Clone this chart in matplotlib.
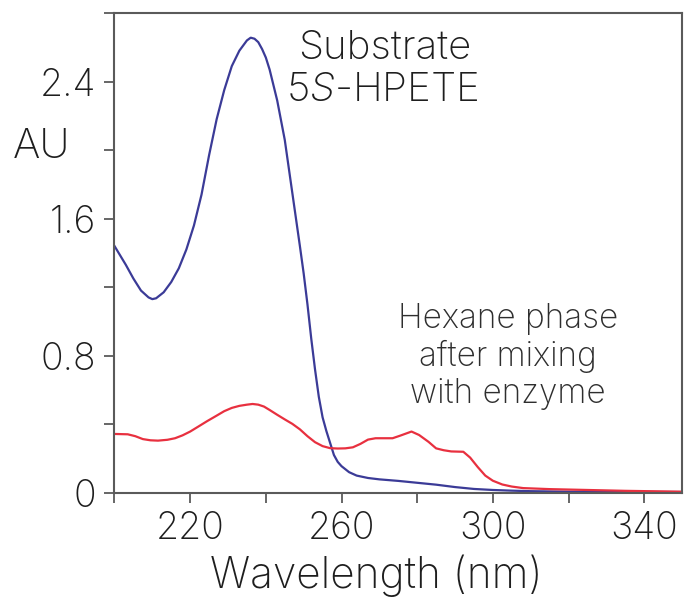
import matplotlib
matplotlib.use('Agg')
import matplotlib.pyplot as plt
from matplotlib.ticker import MultipleLocator

plt.rcParams['font.family'] = ['Inter', 'DejaVu Sans']
plt.rcParams['font.weight'] = 'light'
plt.rcParams['mathtext.fontset'] = 'custom'
plt.rcParams['mathtext.rm'] = 'Inter:light'
plt.rcParams['mathtext.it'] = 'Inter:italic:light'

# substrate 5S-HPETE spectrum
wl_substrate = [200, 203, 205, 207, 209, 210, 211, 213, 215, 217, 219, 221, 223,
                225, 227, 229, 231, 233, 235, 236, 237, 238, 239, 240, 241, 243,
                245, 247, 249, 250, 251, 252, 253, 254, 255, 256, 257, 258, 259,
                260, 262, 264, 267, 270, 275, 280, 285, 290, 295, 300, 305, 310,
                320, 335, 350]
au_substrate = [1.44, 1.33, 1.25, 1.18, 1.14, 1.13, 1.135, 1.17, 1.23, 1.31, 1.42,
                1.56, 1.74, 1.97, 2.18, 2.35, 2.49, 2.58, 2.64, 2.656, 2.65, 2.63,
                2.59, 2.54, 2.47, 2.29, 2.06, 1.75, 1.44, 1.28, 1.10, 0.90, 0.72,
                0.56, 0.44, 0.36, 0.29, 0.22, 0.18, 0.155, 0.12, 0.10, 0.086,
                0.078, 0.069, 0.058, 0.047, 0.033, 0.022, 0.016, 0.012, 0.009,
                0.006, 0.005, 0.004]

# hexane phase after mixing with enzyme
wl_hexane = [200, 203.5, 205.5, 207.5, 209.5, 211.5, 214, 216, 218, 220, 222, 224.5,
             227, 229, 231, 233, 235, 236.5, 238, 239.5, 241, 243, 245, 247, 249,
             251, 253, 255, 257, 259, 261, 263, 265, 267, 269, 271, 273.5, 275.5,
             278.5, 280.5, 283, 285, 287, 289, 292.2, 294, 296, 298, 300, 302.5,
             305, 308, 315, 325, 335, 350]
au_hexane = [0.343, 0.341, 0.33, 0.313, 0.306, 0.304, 0.309, 0.318, 0.335, 0.357,
             0.384, 0.418, 0.45, 0.476, 0.495, 0.507, 0.514, 0.518, 0.514, 0.503,
             0.483, 0.455, 0.428, 0.402, 0.37, 0.33, 0.295, 0.272, 0.26, 0.258,
             0.259, 0.265, 0.285, 0.31, 0.318, 0.318, 0.318, 0.333, 0.357, 0.337,
             0.297, 0.259, 0.248, 0.241, 0.239, 0.205, 0.15, 0.1, 0.07, 0.048,
             0.036, 0.027, 0.021, 0.016, 0.011, 0.006]

txt = '#1e1e1e'
grey = '#5a5a5a'

fig = plt.figure(figsize=(6.86, 6.0), dpi=100)
ax = fig.add_axes([0.1669, 0.1788, 0.8273, 0.7995])

ax.plot(wl_substrate, au_substrate, color='#3b3b97', lw=1.6)
ax.plot(wl_hexane, au_hexane, color='#e8303f', lw=1.6)

ax.set_xlim(200, 350)
ax.set_ylim(0, 2.8)
ax.xaxis.set_major_locator(MultipleLocator(40))
ax.xaxis.set_minor_locator(MultipleLocator(20))
ax.yaxis.set_major_locator(MultipleLocator(0.8))
ax.yaxis.set_minor_locator(MultipleLocator(0.4))
ax.set_xticks([220, 260, 300, 340])
ax.set_yticks([0, 0.8, 1.6, 2.4])
ax.set_yticklabels(['0', '0.8', '1.6', '2.4'])

for s in ax.spines.values():
    s.set_color(grey)
    s.set_linewidth(1.5)
ax.tick_params(which='both', direction='out', length=7.5, width=1.3, color=grey,
               labelsize=27, labelcolor=txt, pad=6)

fig.text(42 / 686, 1 - 147 / 600, 'AU', fontsize=30, color=txt, ha='center', va='center')
fig.text(376 / 686, 1 - 588 / 600, 'Wavelength (nm)', fontsize=30.5, color=txt,
         ha='center', va='baseline')

fig.text(385 / 686, 1 - 59 / 600, 'Substrate', fontsize=29, color=txt,
         ha='center', va='baseline')
fig.text(382 / 686, 1 - 101 / 600, r'5$\mathit{S}$-HPETE', fontsize=29, color=txt,
         ha='center', va='baseline')

for line, yb in zip(['Hexane phase', 'after mixing', 'with enzyme'], [328, 366, 403]):
    fig.text(508 / 686, 1 - yb / 600, line, fontsize=24, color='#2e2e2e',
             ha='center', va='baseline')

fig.savefig('out.png', dpi=100)
